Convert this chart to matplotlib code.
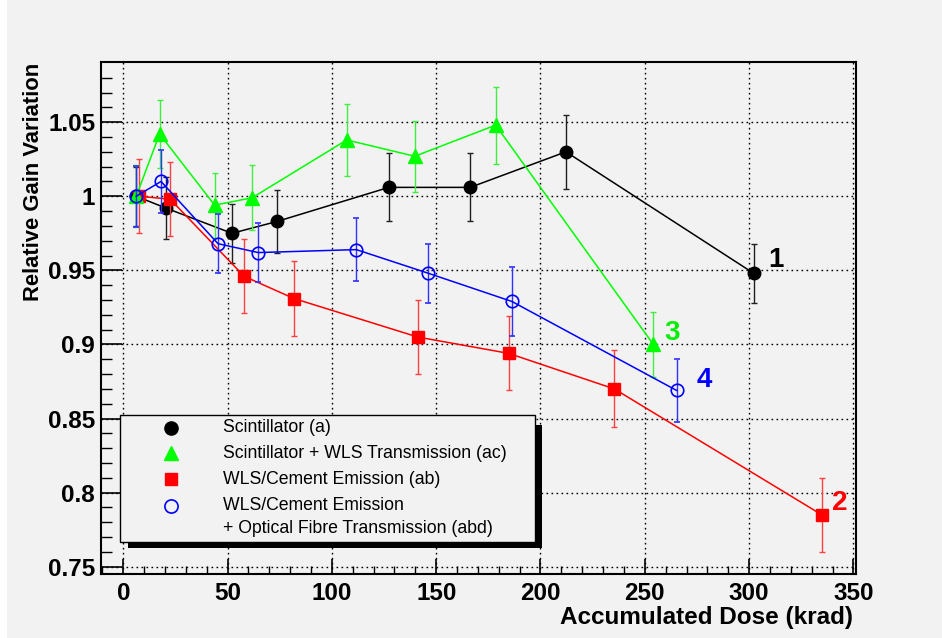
import matplotlib
matplotlib.use("Agg")
import matplotlib.pyplot as plt
from matplotlib.patches import Rectangle
from matplotlib.lines import Line2D

# ---------------- data ----------------
scint_x = [6.2, 20.5, 52.1, 73.7, 127.3, 166.3, 212.2, 302.2]
scint_y = [1.000, 0.992, 0.975, 0.983, 1.006, 1.006, 1.030, 0.948]
scint_e = [0.020, 0.021, 0.020, 0.021, 0.023, 0.023, 0.025, 0.020]

wlst_x = [6.2, 17.4, 43.8, 61.8, 107.1, 139.7, 178.5, 254.1]
wlst_y = [1.000, 1.042, 0.994, 0.999, 1.038, 1.027, 1.048, 0.900]
wlst_e = [0.021, 0.023, 0.022, 0.022, 0.024, 0.024, 0.026, 0.022]

cem_x = [7.7, 22.5, 57.9, 81.8, 141.2, 184.7, 235.4, 334.9]
cem_y = [1.000, 0.998, 0.946, 0.931, 0.905, 0.894, 0.870, 0.785]
cem_e = [0.025, 0.025, 0.025, 0.025, 0.025, 0.025, 0.026, 0.025]

fib_x = [6.2, 18.1, 45.4, 64.7, 111.7, 146.3, 186.3, 265.2]
fib_y = [1.000, 1.010, 0.968, 0.962, 0.964, 0.948, 0.929, 0.869]
fib_e = [0.0205, 0.021, 0.020, 0.020, 0.021, 0.020, 0.0235, 0.021]

legend_labels = ["Scintillator (a)",
                 "Scintillator + WLS Transmission (ac)",
                 "WLS/Cement Emission (ab)",
                 "WLS/Cement Emission",
                 "+ Optical Fibre Transmission (abd)"]

curve_tags = ["1", "2", "3", "4"]
tag_x = [312.9, 343.3, 263.2, 278.4]
tag_y = [0.9568, 0.7929, 0.9074, 0.8757]

x_ticks = [0, 50, 100, 150, 200, 250, 300, 350]
y_ticks = [0.75, 0.8, 0.85, 0.9, 0.95, 1.0, 1.05]
y_ticklabels = ["0.75", "0.8", "0.85", "0.9", "0.95", "1", "1.05"]

# ---------------- figure ----------------
W, H = 942, 638
BG = "#f2f2f2"
plt.rcParams["font.family"] = ["Liberation Sans", "DejaVu Sans"]
fig = plt.figure(figsize=(W / 100, H / 100), dpi=100, facecolor=BG)

def fx(px):
    return px / W

def fy(py):
    return 1 - py / H

# white strip at far left
fig.patches.append(Rectangle((0, 0), fx(7), 1, transform=fig.transFigure,
                             facecolor="white", edgecolor="none", zorder=0))

ax_l, ax_r, ax_t, ax_b = 100.7, 855.7, 62.3, 574.0
ax = fig.add_axes([fx(ax_l), fy(ax_b), fx(ax_r - ax_l), (ax_b - ax_t) / H])
ax.set_facecolor(BG)
ax.set_xlim(-10.83, 351.1)
ax.set_ylim(0.7451, 1.0904)

for s in ax.spines.values():
    s.set_linewidth(1.5)
    s.set_color("black")

ax.set_xticks(x_ticks)
ax.set_xticklabels([str(v) for v in x_ticks])
ax.set_yticks(y_ticks)
ax.set_yticklabels(y_ticklabels)
ax.set_xticks([v for v in range(-10, 351, 10) if v % 50 != 0], minor=True)
ax.set_yticks([0.75 + 0.01 * i for i in range(0, 35) if i % 5 != 0 and 0.75 + 0.01 * i < 1.09], minor=True)

ax.tick_params(axis="x", which="major", direction="in", length=11, width=1.2,
               pad=6, labelsize=17.5)
ax.tick_params(axis="x", which="minor", direction="in", length=6, width=1.0)
ax.tick_params(axis="y", which="major", direction="in", length=15, width=1.2,
               pad=4, labelsize=17.5)
ax.tick_params(axis="y", which="minor", direction="in", length=8, width=1.0)
for lab in ax.get_xticklabels() + ax.get_yticklabels():
    lab.set_fontweight("bold")

ax.grid(True, which="major", color="black", linestyle=(0, (1.2, 2.4)), linewidth=1.0)
ax.set_axisbelow(True)

# ---------------- series ----------------
eb_kw = dict(elinewidth=1.0, capsize=2.5, capthick=1.0, linewidth=1.1)
ax.errorbar(scint_x, scint_y, yerr=scint_e, color="black", marker="o",
            markersize=9, ecolor="#202020", zorder=3, **eb_kw)
ax.errorbar(cem_x, cem_y, yerr=cem_e, color="#ff0000", marker="s",
            markersize=8.5, ecolor="#ff4040", zorder=4, **eb_kw)
ax.errorbar(wlst_x, wlst_y, yerr=wlst_e, color="#00ff00", marker="^",
            markersize=9.5, ecolor="#40ee40", zorder=5, **eb_kw)
ax.errorbar(fib_x, fib_y, yerr=fib_e, color="#0000ff", marker="o",
            markersize=9, markerfacecolor="none", markeredgewidth=1.2,
            ecolor="#3030ff", zorder=6, **eb_kw)

tag_colors = ["black", "#ff0000", "#00ee00", "#0000ff"]
for t, x, y, c in zip(curve_tags, tag_x, tag_y, tag_colors):
    ax.text(x, y, t, color=c, fontsize=20, fontweight="bold",
            ha="center", va="center", zorder=7)

ax.set_xlabel("Accumulated Dose (krad)", fontsize=17.5, fontweight="bold")
ax.xaxis.set_label_coords(0.9965, -0.0855)
ax.xaxis.label.set_ha("right")
ax.xaxis.label.set_va("center")
ax.set_ylabel("Relative Gain Variation", fontsize=15.8, fontweight="bold")
ax.yaxis.set_label_coords(-0.089, 1.0)
ax.yaxis.label.set_ha("right")
ax.yaxis.label.set_va("center")

# ---------------- legend (manual, ROOT style) ----------------
lx0, ly0, lx1, ly1 = 120, 415, 535, 541.5
sh = 6.5
fig.patches.append(Rectangle((fx(lx0 + 8), fy(ly1 + sh)), fx(lx1 - lx0 - 8 + sh),
                             (ly1 + sh - ly0 - 10) / H, transform=fig.transFigure,
                             facecolor="black", edgecolor="none", zorder=10))
fig.patches.append(Rectangle((fx(lx0), fy(ly1)), fx(lx1 - lx0), (ly1 - ly0) / H,
                             transform=fig.transFigure, facecolor=BG,
                             edgecolor="black", linewidth=1.0, zorder=11))

row_y = [427.7, 453.3, 479.3, 506.0, 528.3]
mk_x = 171
txt_x = 223.3
mk_specs = [dict(marker="o", color="black", markersize=9.5),
            dict(marker="^", color="#00ff00", markersize=9.5),
            dict(marker="s", color="#ff0000", markersize=8.5),
            dict(marker="o", color="#0000ff", markersize=9.5, markerfacecolor="none",
                 markeredgewidth=1.2)]
for i, spec in enumerate(mk_specs):
    fig.lines.append(Line2D([fx(mk_x)], [fy(row_y[i])], transform=fig.transFigure,
                            linestyle="none", zorder=12, **spec))
for i, lab in enumerate(legend_labels):
    fig.text(fx(txt_x), fy(row_y[i]), lab, fontsize=12.7, ha="left", va="center",
             zorder=12, color="black")

fig.savefig("out.png", dpi=100, facecolor=BG)
